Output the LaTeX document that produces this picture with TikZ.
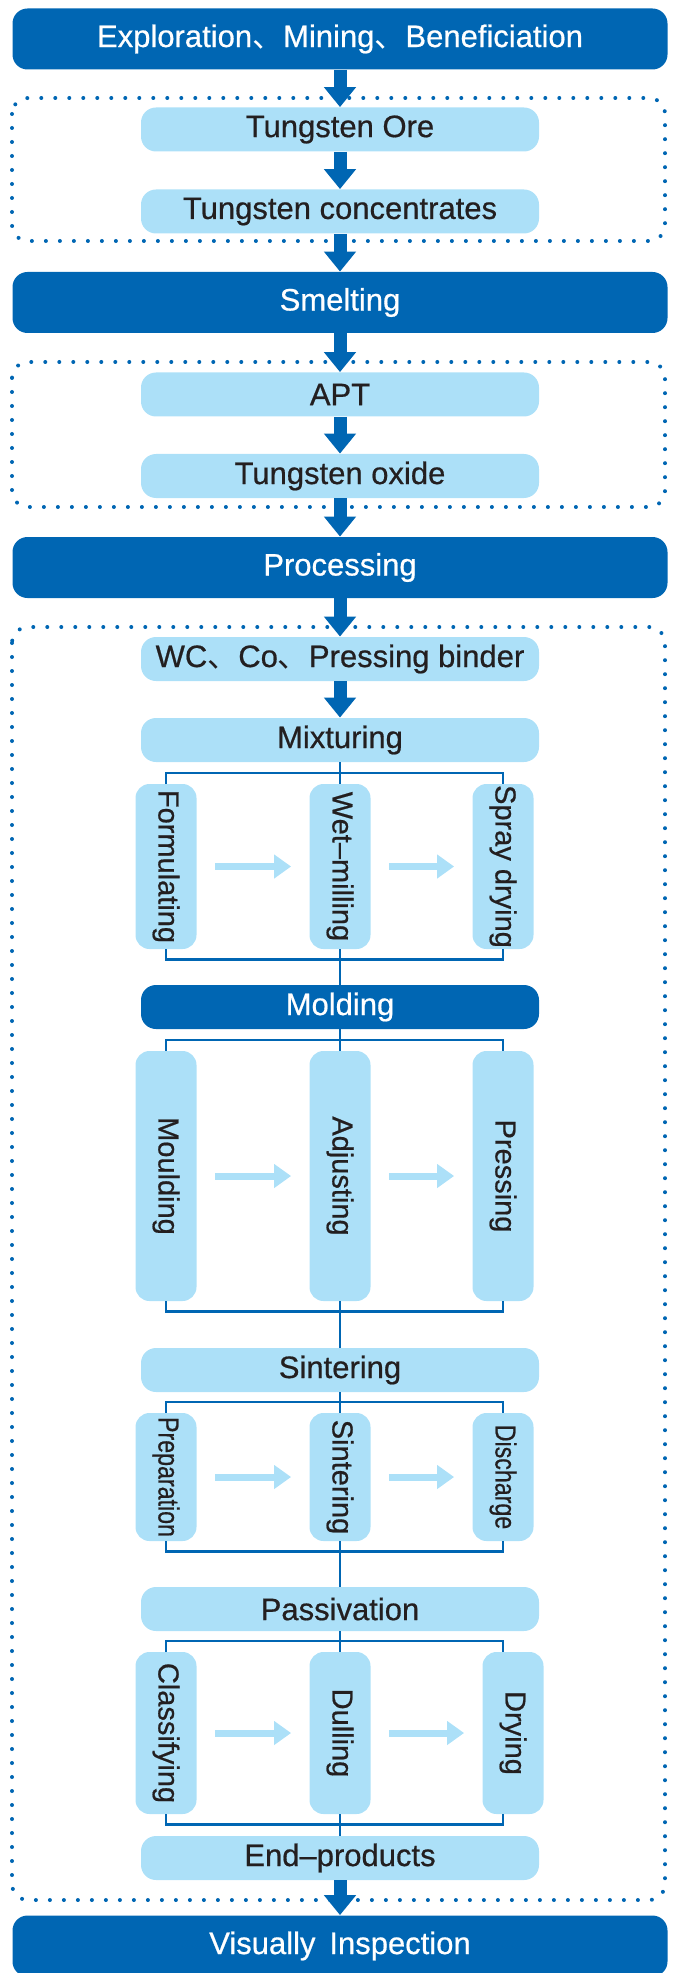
\documentclass[tikz,border=0pt]{standalone}
\usepackage{fontspec}
\usepackage{graphicx}
\setmainfont{Liberation Sans}[FakeBold=0.6]
\newfontfamily\cjk{Noto Sans CJK SC}
\usetikzlibrary{arrows.meta}

\definecolor{deepblue}{RGB}{0,102,179}
\definecolor{paleblue}{RGB}{172,224,248}
\definecolor{inkgray}{RGB}{35,31,32}

\newcommand{\sep}{{\cjk 、}}
\newcommand{\vtext}[1]{\rotatebox{-90}{#1}}
\newcommand{\squeeze}[1]{\scalebox{0.8}[1]{#1}}

\tikzset{
  stage/.style={fill=deepblue, text=white, rounded corners=7.5pt, inner sep=0pt,
    minimum width=327.5pt, minimum height=30.5pt, font=\fontsize{15.5}{18}\selectfont},
  item/.style={fill=paleblue, text=inkgray, rounded corners=7.5pt, inner sep=0pt,
    minimum width=199pt, minimum height=22pt, font=\fontsize{15.5}{18}\selectfont},
  column/.style={fill=paleblue, text=inkgray, rounded corners=7pt, inner sep=0pt,
    minimum width=30.5pt, font=\fontsize{14.5}{17}\selectfont},
  frame/.style={draw=deepblue, line width=2pt, line cap=round,
    dash pattern=on 0pt off 7pt, rounded corners=8pt},
  flow/.style={draw=deepblue, line width=6.5pt, -{Triangle[width=15.5pt,length=10pt]}},
  hint/.style={draw=paleblue, line width=3.5pt, -{Triangle[width=11.5pt,length=8.5pt]},
    shorten <=9pt, shorten >=9pt},
  link/.style={draw=deepblue, line width=1.1pt}
}

\begin{document}
\begin{tikzpicture}[x=0.5pt, y=-0.5pt]
\useasboundingbox (0,0) rectangle (675,1973);

% dotted frames
\draw[frame] (12,98) rectangle (665,241);
\draw[frame] (12,362) rectangle (665,507);
\draw[frame] (12,627) rectangle (665,1900);

% main line
\node[stage] (explore) at (340,39) {Exploration\sep Mining\sep Beneficiation};
\node[item] (ore) at (340,129.5) {Tungsten Ore};
\node[item] (conc) at (340,211.5) {Tungsten concentrates};
\node[stage] (smelt) at (340,302.5) {Smelting};
\node[item] (apt) at (340,394.5) {APT};
\node[item] (oxide) at (340,476) {Tungsten oxide};
\node[stage] (proc) at (340,567.5) {Processing};
\node[item] (powder) at (340,659) {WC\sep Co\sep Pressing binder};
\node[item] (mix) at (340,740) {Mixturing};
\node[item, fill=deepblue, text=white] (mold) at (340,1007) {Molding};
\node[item] (sinter) at (340,1370) {Sintering};
\node[item] (passiv) at (340,1609) {Passivation};
\node[item] (endprod) at (340,1858) {End--products};
\node[stage] (inspect) at (340,1946) {Visually\hspace{0.45em}Inspection};

% sub-steps
\node[column, minimum height=82.5pt] (form) at (166,866.5) {\vtext{Formulating}};
\node[column, minimum height=82.5pt] (mill) at (340,866.5) {\vtext{Wet--milling}};
\node[column, minimum height=82.5pt] (spray) at (503,866.5) {\vtext{Spray drying}};
\node[column, minimum height=125pt] (mould) at (166,1176) {\vtext{Moulding}};
\node[column, minimum height=125pt] (adjust) at (340,1176) {\vtext{Adjusting}};
\node[column, minimum height=125pt] (press) at (503,1176) {\vtext{Pressing}};
\node[column, minimum height=64pt] (prep) at (166,1477) {\vtext{\squeeze{Preparation}}};
\node[column, minimum height=64pt] (furnace) at (340,1477) {\vtext{Sintering}};
\node[column, minimum height=64pt] (disch) at (503,1477) {\vtext{\squeeze{Discharge}}};
\node[column, minimum height=81pt] (class) at (166,1733) {\vtext{Classifying}};
\node[column, minimum height=81pt] (dull) at (340,1733) {\vtext{Dulling}};
\node[column, minimum height=81pt] (dry) at (513,1733) {\vtext{Drying}};

% arrows
\foreach \a/\b in {explore/ore, ore/conc, conc/smelt, smelt/apt, apt/oxide,
                   oxide/proc, proc/powder, powder/mix, endprod/inspect}
  \draw[flow] (\a) -- (\b);
\foreach \a/\b in {form/mill, mill/spray, mould/adjust, adjust/press,
                   prep/furnace, furnace/disch, class/dull, dull/dry}
  \draw[hint] (\a) -- (\b);

% brackets
\foreach \up/\l/\m/\r/\down/\s in {mix/form/mill/spray/mold/0pt,
    mold/mould/adjust/press/sinter/0pt, sinter/prep/furnace/disch/passiv/0pt,
    passiv/class/dull/dry/endprod/-5pt} {
  \draw[link] (\up) -- (\m);
  \draw[link] (\m) -- (\down);
  \draw[link] (\l.north) -- ++(0,-11) -| ([xshift=\s]\r.north);
  \draw[link] (\l.south) -- ++(0,10) -| ([xshift=\s]\r.south);
}
\end{tikzpicture}
\end{document}
